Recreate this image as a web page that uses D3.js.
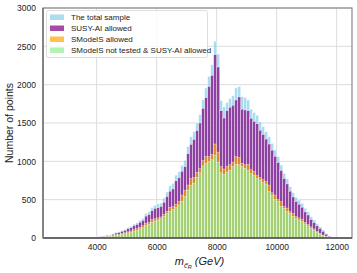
<!DOCTYPE html>
<html>
<head>
<meta charset="utf-8">
<script src="https://cdn.jsdelivr.net/npm/d3@7"></script>
<style>
  body { margin: 0; background: #fff; }
  text { font-family: "Liberation Sans", Arial, sans-serif; }
</style>
</head>
<body>
<div id="chart"></div>
<script>
// bins: 100 GeV wide, left edges 2700 ... 11900
let binWidth = 100;
let binLefts = d3.range(2700, 12000, binWidth);

let totalSample = [0, 0, 1, 1, 2, 2, 3, 4, 5, 6, 8, 10, 13,
    17, 20, 26, 40, 34, 55, 75, 82, 100, 112,
    138, 152, 182, 200, 232, 256, 320, 342, 398, 428,
    445, 455, 520, 600, 680, 712, 820, 862, 950, 1015,
    1190, 1320, 1385, 1500, 1608, 1804, 1956, 2108, 2260, 2565,
    2400, 1790, 1712, 1767, 1820, 1855, 1958, 1975, 1843, 1832,
    1800, 1680, 1636, 1600, 1515, 1452, 1387, 1321, 1234, 1148,
    1060, 952, 843, 770, 669, 590, 530, 495, 452, 387,
    343, 278, 235, 185, 145, 104, 61, 26, 9, 2];

let susyAllowed = [0, 0, 1, 1, 1, 2, 2, 3, 4, 5, 7, 8, 11,
    14, 17, 22, 30, 29, 46, 64, 71, 86, 98,
    120, 134, 160, 176, 205, 228, 285, 305, 355, 385,
    395, 410, 465, 540, 610, 640, 745, 785, 870, 930,
    1100, 1220, 1285, 1400, 1500, 1690, 1830, 1975, 2120, 2390,
    2230, 1660, 1565, 1660, 1705, 1730, 1800, 1840, 1680, 1670,
    1660, 1560, 1520, 1490, 1405, 1350, 1290, 1225, 1145, 1065,
    985, 880, 775, 705, 610, 535, 475, 440, 400, 340,
    300, 240, 200, 158, 122, 86, 48, 20, 6, 1];

let smodelsAllowed = [0, 0, 0, 1, 1, 1, 2, 2, 3, 3, 4, 5, 7,
    10, 12, 15, 24, 20, 30, 44, 48, 60, 68,
    80, 92, 108, 122, 140, 160, 192, 205, 238, 250,
    262, 275, 310, 350, 400, 408, 440, 474, 560, 620,
    690, 775, 790, 855, 905, 1010, 1060, 1060, 1090, 1226,
    1120, 930, 900, 935, 955, 990, 1060, 1050, 975, 955,
    960, 890, 870, 815, 790, 760, 740, 690, 590, 560,
    500, 474, 410, 390, 345, 322, 280, 262, 245, 205,
    178, 145, 118, 86, 60, 36, 20, 6, 1, 0];

let notTestedSusy = [0, 0, 0, 0, 1, 1, 1, 2, 2, 3, 3, 4, 6,
    8, 9, 12, 18, 16, 24, 35, 38, 48, 55,
    66, 75, 90, 100, 118, 135, 165, 178, 205, 222,
    235, 250, 280, 320, 350, 372, 395, 430, 480, 540,
    625, 690, 715, 790, 850, 940, 975, 1000, 1020, 1082,
    990, 850, 830, 860, 880, 930, 960, 955, 930, 910,
    885, 840, 820, 780, 756, 722, 704, 610, 560, 500,
    474, 410, 388, 345, 322, 280, 256, 235, 213, 183,
    156, 126, 104, 74, 52, 30, 17, 5, 1, 0];

let seriesNames = ["The total sample", "SUSY-AI allowed", "SModelS allowed",
    "SModelS not tested & SUSY-AI allowed"];
let seriesColors = ["#87ceeb", "#800080", "#ffa500", "#90ee90"];
let seriesValues = [totalSample, susyAllowed, smodelsAllowed, notTestedSusy];

let xTicks = [4000, 6000, 8000, 10000, 12000];
let yTicks = [0, 500, 1000, 1500, 2000, 2500, 3000];

let w = 357;
let h = 273;
let margin = {top: 8, right: 5, bottom: 35, left: 43};

let svg = d3.select("#chart")
    .append("svg")
    .attr("width", w)
    .attr("height", h);

let x = d3.scaleLinear()
    .domain([2210, 12510])
    .range([margin.left, w - margin.right]);

let y = d3.scaleLinear()
    .domain([0, 3000])
    .range([h - margin.bottom, margin.top]);

// grid
svg.append("g")
    .selectAll("line.gx")
    .data(xTicks)
    .enter()
    .append("line")
    .attr("x1", d => x(d)).attr("x2", d => x(d))
    .attr("y1", margin.top).attr("y2", h - margin.bottom)
    .attr("stroke", "#dcdcdc")
    .attr("stroke-width", 1);

svg.append("g")
    .selectAll("line.gy")
    .data(yTicks)
    .enter()
    .append("line")
    .attr("x1", margin.left).attr("x2", w - margin.right)
    .attr("y1", d => y(d)).attr("y2", d => y(d))
    .attr("stroke", "#dcdcdc")
    .attr("stroke-width", 1);

// histograms, drawn on top of each other
seriesValues.forEach(function (vals, k) {
    svg.append("g")
        .selectAll("rect")
        .data(vals)
        .enter()
        .append("rect")
        .attr("x", function (d, i) { return x(binLefts[i]); })
        .attr("width", x(binLefts[0] + binWidth) - x(binLefts[0]))
        .attr("y", function (d) { return y(d); })
        .attr("height", function (d) { return y(0) - y(d); })
        .attr("fill", seriesColors[k])
        .attr("fill-opacity", 0.7)
        .attr("stroke", "#ffffff")
        .attr("stroke-opacity", 0.7)
        .attr("stroke-width", 0.5);
});

// frame
svg.append("rect")
    .attr("x", margin.left)
    .attr("y", margin.top)
    .attr("width", w - margin.left - margin.right)
    .attr("height", h - margin.top - margin.bottom)
    .attr("fill", "none")
    .attr("stroke", "#888")
    .attr("stroke-width", 1.2);

svg.append("line")
    .attr("x1", margin.left).attr("x2", w - margin.right)
    .attr("y1", y(0)).attr("y2", y(0))
    .attr("stroke", "#222")
    .attr("stroke-width", 1.2);

svg.append("line")
    .attr("x1", margin.left).attr("x2", margin.left)
    .attr("y1", margin.top).attr("y2", h - margin.bottom)
    .attr("stroke", "#777")
    .attr("stroke-width", 1.6);

// axes
let xAxis = svg.append("g")
    .attr("transform", "translate(0," + (h - margin.bottom) + ")")
    .call(d3.axisBottom(x).tickValues(xTicks).tickSize(0).tickPadding(6).tickFormat(d3.format("d")));
let yAxis = svg.append("g")
    .attr("transform", "translate(" + margin.left + ",0)")
    .call(d3.axisLeft(y).tickValues(yTicks).tickSize(0).tickPadding(7).tickFormat(d3.format("d")));

[xAxis, yAxis].forEach(function (a) {
    a.select(".domain").remove();
    a.selectAll("text")
        .attr("font-family", "'Liberation Sans', Arial, sans-serif")
        .attr("font-size", "8.5px")
        .attr("fill", "#222");
});

// axis labels
svg.append("text")
    .attr("transform", "translate(13," + ((margin.top + h - margin.bottom) / 2) + ") rotate(-90)")
    .attr("text-anchor", "middle")
    .attr("font-size", "10.5px")
    .attr("fill", "#222")
    .text("Number of points");

let xl = svg.append("text")
    .attr("x", (margin.left + w - margin.right) / 2 + 2)
    .attr("y", 265)
    .attr("text-anchor", "middle")
    .attr("font-family", "'DejaVu Sans', sans-serif")
    .attr("font-style", "italic")
    .attr("font-size", "11px")
    .attr("fill", "#222");
xl.append("tspan").text("m");
xl.append("tspan").attr("font-size", "7.5px").attr("dy", 2.5).text("c\u0303");
xl.append("tspan").attr("font-size", "5.5px").attr("dy", 1.5).text("R");
xl.append("tspan").attr("dy", -4).text(" (GeV)");

// legend
let legend = svg.append("g");
legend.append("rect")
    .attr("x", 46.5).attr("y", 10.5)
    .attr("width", 161).attr("height", 47)
    .attr("rx", 2)
    .attr("fill", "#fff")
    .attr("fill-opacity", 0.8)
    .attr("stroke", "#d6d6d6")
    .attr("stroke-width", 0.8);

seriesNames.forEach(function (name, k) {
    let ly = 17.5 + k * 11;
    legend.append("rect")
        .attr("x", 50).attr("y", ly - 3)
        .attr("width", 14).attr("height", 5.5)
        .attr("fill", seriesColors[k])
        .attr("fill-opacity", 0.7);
    legend.append("text")
        .attr("x", 71).attr("y", ly + 2.8)
        .attr("font-size", "8px")
        .attr("fill", "#222")
        .text(name);
});
</script>
</body>
</html>
